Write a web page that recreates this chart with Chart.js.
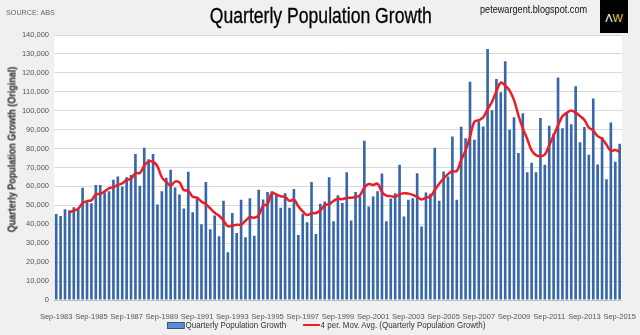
<!DOCTYPE html>
<html>
<head>
<meta charset="utf-8">
<script src="https://cdn.jsdelivr.net/npm/chart.js@4/dist/chart.umd.min.js"></script>
<style>
    body {
        margin: 0;
        background: #f0f0f0;
        font-family: 'Liberation Sans', Arial, sans-serif;
    }

    #wrap {
        position: relative;
        width: 640px;
        height: 335px;
        overflow: hidden;
    }

    #source {
        position: absolute;
        left: 6px;
        top: 8px;
        font-size: 8px;
        color: #666;
        transform: scaleX(0.9);
        transform-origin: left;
    }

    #title {
        position: absolute;
        left: 0;
        width: 640px;
        top: 3px;
        text-align: center;
    }

    #title span {
        display: inline-block;
        font-size: 22px;
        color: #000;
        -webkit-text-stroke: 0.3px #000;
        transform: scaleX(0.8);
        margin-left: 2px;
    }

    #blog {
        position: absolute;
        left: 480px;
        top: 3px;
        font-size: 11px;
        color: #111;
        transform: scaleX(0.83);
        transform-origin: left;
    }

    #logo {
        position: absolute;
        left: 600px;
        top: 0;
        width: 28px;
        height: 33px;
        background: #000;
        color: #fff;
        font-size: 11px;
        line-height: 36px;
        text-align: center;
    }

    #logo span {
        color: #e9c75a;
    }

    #ytitle {
        position: absolute;
        left: -88px;
        top: 144px;
        width: 200px;
        text-align: center;
        font-size: 10px;
        font-weight: bold;
        color: #222;
        transform: rotate(-90deg) scaleX(0.9);
    }

    #legend {
        position: absolute;
        left: 167px;
        top: 319px;
        font-size: 9.5px;
        color: #333;
        white-space: nowrap;
        transform: scaleX(0.84);
        transform-origin: left;
    }

    .legend-box {
        display: inline-block;
        width: 19px;
        height: 5px;
        background: #5d8fd0;
        border: 1px solid #2a5592;
        vertical-align: middle;
        margin-right: 1px;
    }

    .legend-line {
        display: inline-block;
        width: 20px;
        height: 2px;
        background: #ee1c25;
        vertical-align: middle;
        margin-left: 20px;
        margin-right: 1px;
    }
</style>
</head>
<body>
<div id="wrap">
    <canvas id="chart" width="640" height="335"></canvas>
    <div id="source">SOURCE: ABS</div>
    <div id="title"><span>Quarterly Population Growth</span></div>
    <div id="blog">petewargent.blogspot.com</div>
    <div id="logo">Λ<span>W</span></div>
    <div id="ytitle">Quarterly Population Growth (Original)</div>
    <div id="legend"><span class="legend-box"></span>Quarterly Population Growth<span class="legend-line"></span>4 per. Mov. Avg. (Quarterly Population Growth)</div>
</div>

<script>
// data ---------------------------------------------------------------
const firstYear = 1983;
const quarterMonths = ['Sep', 'Dec', 'Mar', 'Jun'];

// quarterly population growth, Sep-1983 .. Sep-2015
const growth = [
    45500, 44400, 48000, 47400, 49000, 48700, 59300, 51900,
    51100, 60800, 60800, 56800, 57500, 63500, 65300, 60000,
    64900, 66000, 77100, 60300, 80400, 74400, 77100, 50400,
    57500, 64600, 68800, 59400, 55700, 48300, 67700, 46400,
    53800, 40000, 62300, 37400, 44600, 33700, 52400, 25200,
    45900, 35400, 52900, 33200, 53800, 33900, 58200, 53100,
    57100, 57500, 55600, 48700, 56400, 48700, 58600, 34400,
    45500, 41100, 62400, 34900, 50800, 52000, 64900, 41600,
    55400, 51300, 67500, 42000, 57000, 54700, 84100, 49400,
    54700, 57500, 66800, 41600, 53600, 56400, 71400, 44100,
    52900, 53800, 67000, 38800, 56800, 56100, 80400, 52400,
    67900, 65300, 86400, 52900, 91500, 85500, 115300, 84700,
    94400, 91700, 132600, 100200, 116800, 109700, 126100, 90000,
    96600, 77600, 98600, 67500, 72500, 67500, 96100, 71400,
    92100, 88000, 117500, 90800, 99300, 92900, 112900, 83400,
    91400, 76700, 106500, 71600, 86100, 63800, 93800, 73000,
    82500
];

const yTicks = [0, 10000, 20000, 30000, 40000, 50000, 60000, 70000,
    80000, 90000, 100000, 110000, 120000, 130000, 140000];

const maPeriod = 4;


// labels and moving average ------------------------------------------
let labels = [];
for (let i = 0; i < growth.length; i++) {
    let year = firstYear + Math.floor((i + 2) / 4);
    labels.push(quarterMonths[i % 4] + '-' + year);
}

// trailing moving average, the way the excel trendline draws it
let movAvg = [];
for (let i = 0; i < growth.length; i++) {
    if (i < maPeriod - 1) {
        movAvg.push(null);
        continue;
    }
    let sum = 0;
    for (let j = i - maPeriod + 1; j <= i; j++) sum += growth[j];
    movAvg.push(sum / maPeriod);
}


// chart --------------------------------------------------------------
const plotBg = {
    id: 'plotBg',
    beforeDraw(chart) {
        let a = chart.chartArea;
        let ctx = chart.ctx;
        ctx.save();
        ctx.fillStyle = '#ffffff';
        ctx.fillRect(a.left, a.top, a.right - a.left, a.bottom - a.top);
        ctx.restore();
    }
};

const tickFont = { family: "'Liberation Sans', Arial, sans-serif", size: 7.5 };

new Chart(document.getElementById('chart'), {
    data: {
        labels: labels,
        datasets: [{
            type: 'line',
            label: '4 per. Mov. Avg. (Quarterly Population Growth)',
            data: movAvg,
            borderColor: '#ee1c25',
            borderWidth: 2.5,
            pointRadius: 0,
            tension: 0.4,
            order: 0
        }, {
            type: 'bar',
            label: 'Quarterly Population Growth',
            data: growth,
            backgroundColor: '#3767a8',
            borderWidth: 0,
            barPercentage: 0.6,
            categoryPercentage: 1,
            order: 1
        }]
    },
    options: {
        responsive: false,
        animation: false,
        layout: { padding: { top: 35, right: 18, left: 0, bottom: 0 } },
        plugins: {
            legend: { display: false },
            tooltip: { enabled: false }
        },
        scales: {
            x: {
                grid: { display: false },
                border: { color: '#bfbfbf' },
                ticks: {
                    autoSkip: false,
                    maxRotation: 0,
                    minRotation: 0,
                    padding: 4,
                    color: '#555',
                    font: tickFont,
                    callback: (v, i) => i % 8 === 0 ? labels[i] : ''
                },
                afterFit: (s) => { s.height = 35; }
            },
            y: {
                min: 0,
                max: 140000,
                afterBuildTicks: (s) => { s.ticks = yTicks.map(v => ({ value: v })); },
                grid: { color: '#d9d9d9', drawTicks: false },
                border: { display: false },
                ticks: {
                    padding: 5,
                    color: '#555',
                    font: tickFont,
                    callback: (v) => v.toLocaleString('en-US')
                },
                afterFit: (s) => { s.width = 54; }
            }
        }
    },
    plugins: [plotBg]
});
</script>
</body>
</html>
